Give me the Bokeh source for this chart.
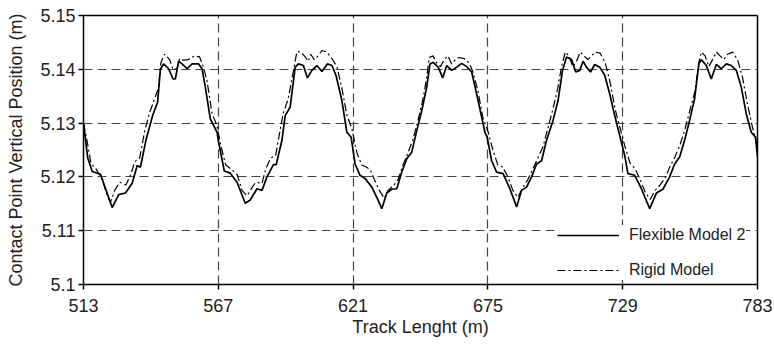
from bokeh.plotting import figure
from bokeh.models import Range1d, FixedTicker, CustomJSTickFormatter, Legend, LegendItem, LinearAxis
from bokeh.embed import file_html
from bokeh.resources import INLINE

# ---- data ----
x_ticks = [513, 567, 621, 675, 729, 783]
y_ticks = [5.10, 5.11, 5.12, 5.13, 5.14, 5.15]

flex_x = [513, 514.7, 516.5, 519.8, 524.5, 527.1, 529.8, 532.5, 534.5, 535.8, 538, 540.7, 542.7,
          543.8, 545.1, 547.1, 548.9, 549.8, 551.1, 552.5, 554.5, 556.5, 559.1, 560.5, 561.8,
          563.8, 566.5, 567.1, 569.4, 571.8, 574.5, 577.8, 579.8, 582.5, 584.5, 586.5, 589.1,
          590.2, 592.5, 593.8, 595.8, 597.8, 599.1, 601.1, 602.7, 604.5, 606.5, 608.5, 610.7,
          612.5, 614.2, 616.5, 618.5, 620.2, 621.8, 623.8, 625.8, 628.5, 630.5, 632.5, 634.5,
          636.5, 638.5, 640.5, 642.5, 644.5, 646.5, 648.5, 650.5, 651.8, 653.1, 655.1, 656.9,
          658.5, 660.5, 662.5, 664.5, 666.5, 668.5, 670.5, 672.5, 673.8, 674.7, 676.5, 678.5,
          681.1, 683.8, 685.1, 686.5, 688.5, 690.5, 692.5, 694.5, 696.5, 698.5, 701.1, 703.1,
          704.9, 706.5, 708.5, 710.2, 711.8, 713.1, 714.5, 716.1, 717.8, 719.8, 721.8, 723.8,
          725.8, 727.8, 729.8, 731.1, 733.8, 736.5, 739.8, 742.5, 745.1, 747.8, 749.8, 751.8,
          753.8, 755.8, 757.8, 759.5, 760.5, 762.5, 764.5, 766.5, 768.5, 770.5, 772.5, 774.5,
          776.5, 778.5, 780.5, 782.2, 783]
flex_y = [5.1300, 5.1235, 5.1210, 5.1205, 5.1143, 5.1167, 5.1170, 5.1188, 5.1221, 5.1218, 5.1268,
          5.1314, 5.1339, 5.1400, 5.1410, 5.1401, 5.1382, 5.1382, 5.1415, 5.1410, 5.1401, 5.1410,
          5.1410, 5.1401, 5.1367, 5.1308, 5.1283, 5.1265, 5.1211, 5.1207, 5.1190, 5.1151, 5.1157,
          5.1178, 5.1175, 5.1200, 5.1223, 5.1223, 5.1268, 5.1314, 5.1330, 5.1404, 5.1410, 5.1407,
          5.1384, 5.1398, 5.1407, 5.1396, 5.1410, 5.1407, 5.1388, 5.1342, 5.1283, 5.1274, 5.1224,
          5.1203, 5.1197, 5.1181, 5.1162, 5.1141, 5.1170, 5.1177, 5.1178, 5.1209, 5.1234, 5.1246,
          5.1286, 5.1323, 5.1367, 5.1410, 5.1413, 5.1404, 5.1384, 5.1407, 5.1398, 5.1404, 5.1411,
          5.1405, 5.1395, 5.1354, 5.1311, 5.1283, 5.1274, 5.1230, 5.1209, 5.1206, 5.1178, 5.1162,
          5.1144, 5.1175, 5.1181, 5.1200, 5.1224, 5.1230, 5.1268, 5.1305, 5.1342, 5.1398, 5.1423,
          5.1418, 5.1395, 5.1398, 5.1415, 5.1404, 5.1395, 5.1409, 5.1404, 5.1389, 5.1354, 5.1314,
          5.1277, 5.1240, 5.1206, 5.1203, 5.1178, 5.1141, 5.1170, 5.1177, 5.1200, 5.1224, 5.1237,
          5.1268, 5.1305, 5.1345, 5.1410, 5.1418, 5.1407, 5.1382, 5.1409, 5.1401, 5.1410, 5.1407,
          5.1398, 5.1367, 5.1317, 5.1283, 5.1274, 5.1238]

rigid_x = [513, 514.5, 516, 518, 520.5, 522.5, 523.8, 525.5, 527.5, 530, 532, 533.5, 535.5, 537.5,
           539.5, 541.5, 543, 544, 545.5, 547.5, 549, 550.5, 551.5, 553, 555, 557.5, 559.5, 561,
           562.5, 564.5, 566.5, 568, 570, 572, 574.5, 576.5, 578.5, 580.5, 582, 584.5, 586, 588,
           590, 591.5, 593, 595, 597, 598.5, 600, 601.5, 603, 604, 605.5, 607, 608.5, 610.5, 612.5,
           614.5, 616.5, 618.5, 620.5, 622.5, 624.5, 626.5, 628, 629.5, 631.5, 633.5, 635, 637,
           639, 641, 643, 645, 647, 649, 650.5, 651.5, 653, 654.5, 656, 657.5, 659, 660.5, 662,
           663.5, 665.5, 667.5, 669, 671, 673, 675, 677, 679, 681, 683, 685, 687, 689, 691, 693,
           695, 697, 699, 701, 703, 704.5, 706, 707.5, 709, 710.5, 712, 713.5, 715, 716.5, 718,
           720, 722, 724, 726, 728, 730, 732, 734, 736, 738, 740, 742, 744, 746, 748, 750, 752,
           754, 756, 758, 759.5, 760.5, 762, 763.5, 765, 766.5, 768, 769.5, 771, 773, 775, 777,
           779, 781, 783]
rigid_y = [5.1300, 5.1265, 5.1225, 5.1215, 5.1195, 5.1165, 5.1153, 5.1175, 5.1190, 5.1185, 5.1205,
           5.1228, 5.1235, 5.1285, 5.1320, 5.1345, 5.1365, 5.1412, 5.1428, 5.1418, 5.1398, 5.1402,
           5.1420, 5.1417, 5.1418, 5.1425, 5.1423, 5.1405, 5.1378, 5.1318, 5.1295, 5.1258, 5.1222,
           5.1215, 5.1205, 5.1175, 5.1165, 5.1180, 5.1190, 5.1188, 5.1215, 5.1235, 5.1240, 5.1280,
           5.1318, 5.1345, 5.1395, 5.1433, 5.1432, 5.1425, 5.1415, 5.1428, 5.1418, 5.1425, 5.1435,
           5.1432, 5.1420, 5.1405, 5.1365, 5.1315, 5.1290, 5.1245, 5.1222, 5.1218, 5.1212, 5.1195,
           5.1175, 5.1160, 5.1175, 5.1183, 5.1195, 5.1222, 5.1245, 5.1270, 5.1305, 5.1345, 5.1385,
           5.1422, 5.1425, 5.1412, 5.1405, 5.1418, 5.1425, 5.1410, 5.1418, 5.1422, 5.1420, 5.1412,
           5.1395, 5.1360, 5.1310, 5.1285, 5.1250, 5.1222, 5.1218, 5.1200, 5.1175, 5.1162, 5.1180,
           5.1195, 5.1215, 5.1235, 5.1255, 5.1290, 5.1325, 5.1365, 5.1405, 5.1432, 5.1425, 5.1405,
           5.1415, 5.1432, 5.1425, 5.1418, 5.1425, 5.1432, 5.1430, 5.1412, 5.1375, 5.1325, 5.1290,
           5.1255, 5.1225, 5.1215, 5.1195, 5.1172, 5.1158, 5.1175, 5.1185, 5.1198, 5.1220, 5.1238,
           5.1260, 5.1290, 5.1325, 5.1360, 5.1412, 5.1432, 5.1425, 5.1405, 5.1418, 5.1432, 5.1425,
           5.1418, 5.1428, 5.1432, 5.1418, 5.1385, 5.1335, 5.1292, 5.1255]

FONT = "Liberation Sans"
TXT = "#222222"

p = figure(width=774, height=344, output_backend="svg", toolbar_location=None,
           x_range=Range1d(513, 783), y_range=Range1d(5.10, 5.15),
           min_border_left=83, min_border_right=17, min_border_top=15, min_border_bottom=60)

p.background_fill_color = "white"
p.border_fill_color = "white"
p.outline_line_color = None

# grids
for g in (p.xgrid, p.ygrid):
    g.grid_line_color = "#444444"
    g.grid_line_dash = "9 5"
    g.grid_line_width = 1.2
p.xgrid.ticker = FixedTicker(ticks=x_ticks)
p.ygrid.ticker = FixedTicker(ticks=y_ticks)

# axes
p.xaxis.ticker = FixedTicker(ticks=x_ticks)
p.yaxis.ticker = FixedTicker(ticks=y_ticks)
p.yaxis.formatter = CustomJSTickFormatter(code="return tick.toFixed(2).replace(/0$/, '');")
for ax in (p.xaxis[0], p.yaxis[0]):
    ax.axis_line_color = "black"
    ax.axis_line_width = 1.5
    ax.major_tick_line_color = "black"
    ax.major_tick_line_width = 1.5
    ax.major_tick_in = 0
    ax.major_tick_out = 5
    ax.minor_tick_line_color = None
    ax.major_label_text_font = FONT
    ax.major_label_text_font_size = "18px"
    ax.major_label_text_color = TXT
    ax.axis_label_text_font = FONT
    ax.axis_label_text_font_style = "normal"
    ax.axis_label_text_color = TXT
p.xaxis.axis_label = "Track Lenght (m)"
p.yaxis.axis_label = "Contact Point Vertical Position (m)"
p.xaxis.axis_label_text_font_size = "18px"
p.yaxis.axis_label_text_font_size = "18px"
p.xaxis.major_label_standoff = 9
p.xaxis.axis_label_standoff = 2
p.yaxis.major_label_standoff = 3
p.yaxis.axis_label_standoff = 11

# top and right frame lines
for side in ("right", "above"):
    frame_ax = LinearAxis(ticker=FixedTicker(ticks=[]), axis_line_color="black", axis_line_width=1.5,
                          major_tick_line_color=None, minor_tick_line_color=None,
                          major_label_text_font_size="0px")
    p.add_layout(frame_ax, side)

r_rigid = p.line(rigid_x, rigid_y, line_color="black", line_width=1.2, line_dash="8 3 2 3")
r_flex = p.line(flex_x, flex_y, line_color="black", line_width=1.7)

legend = Legend(items=[LegendItem(label="Flexible Model 2", renderers=[r_flex]),
                       LegendItem(label="Rigid Model", renderers=[r_rigid])],
                location=(474, 4), orientation="vertical",
                background_fill_color="white", background_fill_alpha=1.0,
                border_line_color=None,
                label_text_font=FONT, label_text_font_size="16px", label_text_color=TXT,
                glyph_width=62, glyph_height=20, label_height=20, label_standoff=10,
                spacing=15, padding=8, margin=0)
p.add_layout(legend, "center")

open("out.html", "w").write(file_html(p, INLINE))
